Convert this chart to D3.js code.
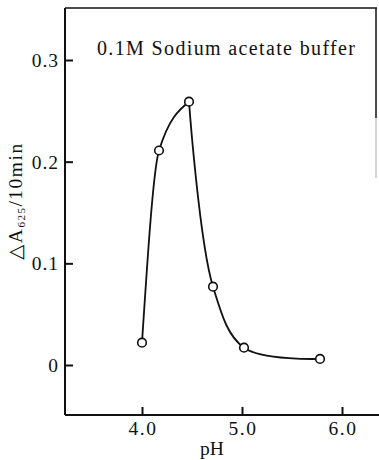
<!DOCTYPE html>
<html>
<head>
<meta charset="utf-8">
<script src="https://cdn.jsdelivr.net/npm/d3@7"></script>
<style>
  html, body { margin: 0; padding: 0; background: #fff; }
  svg { display: block; }
  text { font-family: "Liberation Serif", "DejaVu Serif", serif; fill: #111; }
</style>
</head>
<body>
<svg id="chart" width="379" height="460"></svg>
<script>
// activity vs pH in acetate buffer
const pH = [4.0, 4.17, 4.47, 4.71, 5.02, 5.78];
const dA625 = [0.022, 0.211, 0.259, 0.077, 0.017, 0.006];
const xTicks = [4.0, 5.0, 6.0];
const yTicks = [0, 0.1, 0.2, 0.3];
const title = "0.1M Sodium acetate buffer";

const svg = d3.select("#chart");
const ink = "#111";
const serif = "'Liberation Serif', 'DejaVu Serif', serif";
const fs = 19.5;

const x = d3.scaleLinear().domain([4, 6]).range([142, 342]);
const y = d3.scaleLinear().domain([0, 0.3]).range([365, 60]);

const frame = { left: 65, top: 8, bottom: 415, right: 376 };

// frame: left + bottom axis, top rule, partial right rule
svg.append("line")
  .attr("x1", frame.left).attr("x2", frame.left).attr("y1", frame.top).attr("y2", frame.bottom)
  .attr("stroke", ink).attr("stroke-width", 2);
svg.append("line")
  .attr("x1", frame.left).attr("x2", 379).attr("y1", frame.bottom).attr("y2", frame.bottom)
  .attr("stroke", ink).attr("stroke-width", 2);
svg.append("line")
  .attr("x1", frame.left).attr("x2", frame.right + 1).attr("y1", frame.top).attr("y2", frame.top)
  .attr("stroke", ink).attr("stroke-width", 1.6);
svg.append("line")
  .attr("x1", frame.right).attr("x2", frame.right).attr("y1", frame.top).attr("y2", 118)
  .attr("stroke", ink).attr("stroke-width", 1.5);
svg.append("line")
  .attr("x1", frame.right).attr("x2", frame.right).attr("y1", 118).attr("y2", 178)
  .attr("stroke", "#aaa").attr("stroke-width", 1);

const yAxis = svg.append("g")
  .attr("transform", `translate(${frame.left},0)`)
  .call(d3.axisLeft(y)
    .tickValues(yTicks)
    .tickSize(-8)
    .tickPadding(6)
    .tickFormat(d => d === 0 ? "0" : d3.format(".1f")(d)))
  .attr("font-family", serif)
  .attr("font-size", fs);
yAxis.select(".domain").remove();
yAxis.selectAll(".tick line").attr("stroke", ink).attr("stroke-width", 2);
yAxis.selectAll(".tick text")
  .attr("fill", ink)
  .attr("letter-spacing", 1)
  .attr("dy", "0.34em");

const xAxis = svg.append("g")
  .attr("transform", `translate(0,${frame.bottom})`)
  .call(d3.axisBottom(x)
    .tickValues(xTicks)
    .tickSize(-8)
    .tickPadding(6)
    .tickFormat(d3.format(".1f")))
  .attr("font-family", serif)
  .attr("font-size", fs);
xAxis.select(".domain").remove();
xAxis.selectAll(".tick line").attr("stroke", ink).attr("stroke-width", 2);
xAxis.selectAll(".tick text")
  .attr("fill", ink)
  .attr("letter-spacing", 1.5)
  .attr("dx", 0.5);

// axis titles
svg.append("text")
  .attr("x", 212).attr("y", 455)
  .attr("text-anchor", "middle")
  .attr("font-size", fs)
  .text("pH");

const yl = svg.append("text")
  .attr("transform", "translate(22,201) rotate(-90)")
  .attr("text-anchor", "middle")
  .attr("font-size", fs)
  .attr("letter-spacing", 1.5);
yl.append("tspan").text("△A");
yl.append("tspan").attr("font-size", 11).attr("dy", 3).text("625");
yl.append("tspan").attr("dy", -3).text("/10min");

svg.append("text")
  .attr("x", 97).attr("y", 55)
  .attr("font-size", 20)
  .attr("textLength", 258)
  .attr("lengthAdjust", "spacing")
  .text(title);

// curve: rising limb up to the maximum, then the falling limb
const pts = pH.map((p, i) => [p, dA625[i]]);
const peak = d3.maxIndex(dA625);
const rise = d3.line().x(d => x(d[0])).y(d => y(d[1])).curve(d3.curveMonotoneX);
const fall = d3.line().x(d => x(d[0])).y(d => y(d[1])).curve(d3.curveCatmullRom.alpha(0.5));

svg.append("path")
  .attr("d", rise(pts.slice(0, peak + 1)))
  .attr("fill", "none").attr("stroke", ink).attr("stroke-width", 1.8);
svg.append("path")
  .attr("d", fall(pts.slice(peak)))
  .attr("fill", "none").attr("stroke", ink).attr("stroke-width", 1.8);

svg.append("g")
  .selectAll("circle")
  .data(pts)
  .join("circle")
  .attr("cx", d => x(d[0]))
  .attr("cy", d => y(d[1]))
  .attr("r", 4.3)
  .attr("fill", "#fff")
  .attr("stroke", ink)
  .attr("stroke-width", 1.6);
</script>
</body>
</html>
